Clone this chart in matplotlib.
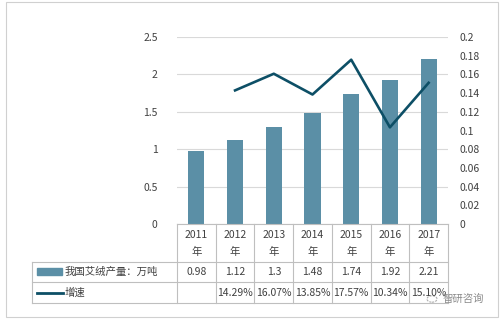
import matplotlib
matplotlib.use("Agg")
import matplotlib.pyplot as plt
from matplotlib.patches import Rectangle, Circle
from matplotlib.lines import Line2D

plt.rcParams['font.family'] = ['Noto Sans CJK SC', 'DejaVu Sans']

years = ["2011", "2012", "2013", "2014", "2015", "2016", "2017"]
production = [0.98, 1.12, 1.3, 1.48, 1.74, 1.92, 2.21]
growth = [None, 0.1429, 0.1607, 0.1385, 0.1757, 0.1034, 0.1510]
prod_labels = ["0.98", "1.12", "1.3", "1.48", "1.74", "1.92", "2.21"]
growth_labels = ["", "14.29%", "16.07%", "13.85%", "17.57%", "10.34%", "15.10%"]
series_names = ["我国艾绒产量：万吨", "增速"]

W, H = 503, 322
fig = plt.figure(figsize=(W / 100, H / 100), dpi=100)

def fx(px):
    return px / W

def fy(py):
    return 1 - py / H

bar_color = "#5b8fa6"
line_color = "#0d4f66"
grid_color = "#d9d9d9"
tab_color = "#bfbfbf"
txt_color = "#404040"
fs = 7.5

x0, x1, y0, y1 = 177, 448, 224, 37
ax = fig.add_axes([fx(x0), fy(y0), fx(x1) - fx(x0), fy(y1) - fy(y0)])
n = len(years)
xs = list(range(n))
ax.bar(xs, production, width=0.42, color=bar_color, zorder=2)
ax.set_xlim(-0.5, n - 0.5)
ax.set_ylim(0, 2.5)
ax.set_yticks([0, 0.5, 1, 1.5, 2, 2.5])
ax.set_yticklabels(["0", "0.5", "1", "1.5", "2", "2.5"])
ax.grid(axis="y", color=grid_color, linewidth=0.8, zorder=0)
ax.set_xticks([])
for s in ["top", "right", "left"]:
    ax.spines[s].set_visible(False)
ax.spines["bottom"].set_color(tab_color)
ax.tick_params(axis="y", length=0, labelsize=fs, labelcolor=txt_color, pad=14)

ax2 = ax.twinx()
gx = [x for x, g in zip(xs, growth) if g is not None]
gy = [g for g in growth if g is not None]
ax2.plot(gx, gy, color=line_color, linewidth=1.9, zorder=3)
ax2.set_ylim(0, 0.2)
ax2.set_yticks([i * 0.02 for i in range(11)])
ax2.set_yticklabels(["0", "0.02", "0.04", "0.06", "0.08", "0.1", "0.12", "0.14", "0.16", "0.18", "0.2"])
ax2.tick_params(axis="y", length=0, labelsize=fs, labelcolor=txt_color, pad=8)
for s in ["top", "right", "left", "bottom"]:
    ax2.spines[s].set_visible(False)
ax2.set_xlim(-0.5, n - 0.5)

# Table
cw = (x1 - x0) / n
r0, r1, r2, r3 = 224, 262, 282, 303
tl = 32
def hline(xa, xb, yy):
    fig.add_artist(Line2D([fx(xa), fx(xb)], [fy(yy), fy(yy)], color=tab_color, linewidth=0.8))
def vline(xx, ya, yb):
    fig.add_artist(Line2D([fx(xx), fx(xx)], [fy(ya), fy(yb)], color=tab_color, linewidth=0.8))

for i in range(n + 1):
    vline(x0 + i * cw, r0, r3)
vline(tl, r1, r3)
for yy in [r1, r2, r3]:
    hline(tl, x1, yy)

for i in range(n):
    cx = x0 + (i + 0.5) * cw
    fig.text(fx(cx), fy(r0 + 11), years[i], ha="center", va="center", fontsize=fs, color=txt_color)
    fig.text(fx(cx), fy(r0 + 28), "年", ha="center", va="center", fontsize=fs, color=txt_color)
    fig.text(fx(cx), fy((r1 + r2) / 2), prod_labels[i], ha="center", va="center", fontsize=fs, color=txt_color)
    fig.text(fx(cx), fy((r2 + r3) / 2), growth_labels[i], ha="center", va="center", fontsize=fs, color=txt_color)

fig.add_artist(Rectangle((fx(37), fy(275)), fx(62) - fx(37), fy(268) - fy(275), color=bar_color))
fig.add_artist(Line2D([fx(37), fx(63)], [fy(292.5), fy(292.5)], color=line_color, linewidth=2.0))
fig.text(fx(65), fy((r1 + r2) / 2), series_names[0], ha="left", va="center", fontsize=fs, color=txt_color)
fig.text(fx(65), fy((r2 + r3) / 2), series_names[1], ha="left", va="center", fontsize=fs, color=txt_color)

# watermark
fig.add_artist(Circle((fx(432), fy(299)), 5 / W, fill=False, edgecolor="#b0b0b0", linewidth=0.8, linestyle=(0, (2, 1))))
fig.text(fx(443), fy(299), "智研咨询", ha="left", va="center", fontsize=fs, color="#8a8a8a")

# outer border
fig.add_artist(Rectangle((fx(5.5), fy(317)), fx(498) - fx(5.5), fy(2) - fy(317), fill=False, edgecolor="#d0d0d0", linewidth=0.8))

fig.savefig("out.png", dpi=100)
